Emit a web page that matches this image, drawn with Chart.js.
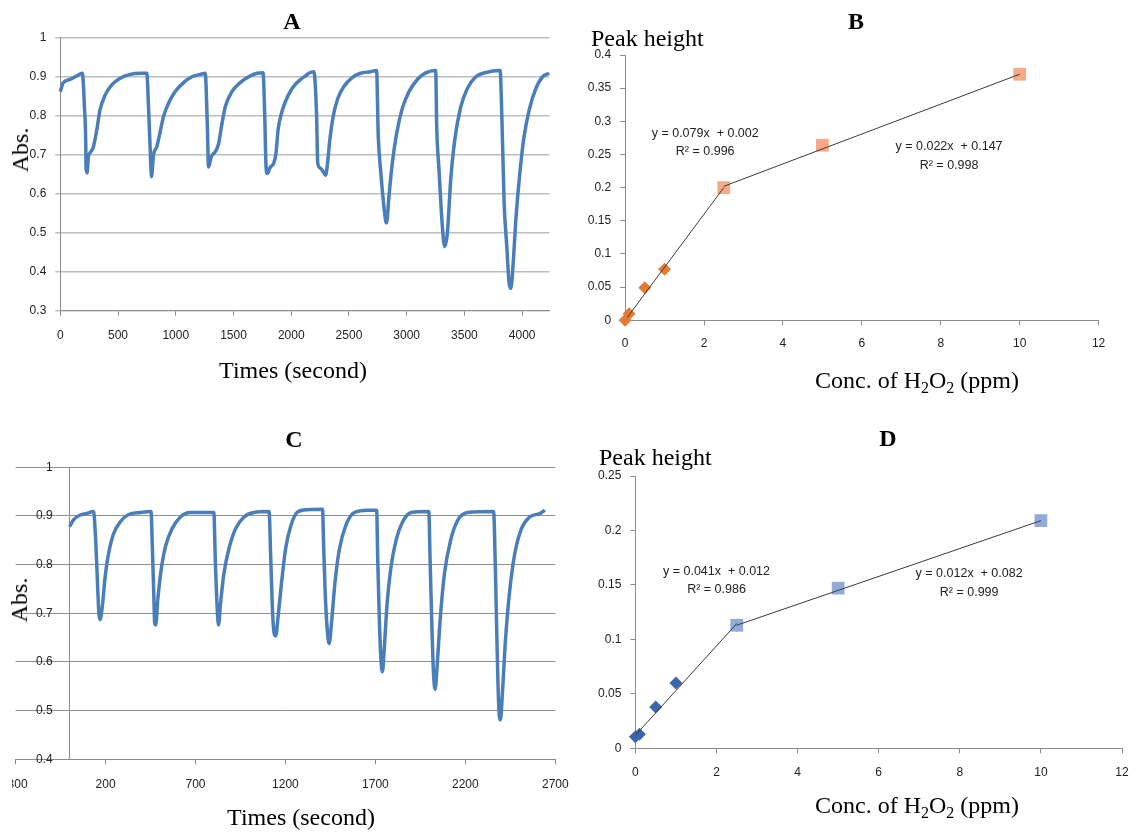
<!DOCTYPE html>
<html><head><meta charset="utf-8">
<script src="https://cdn.jsdelivr.net/npm/chart.js@4.4.1/dist/chart.umd.min.js"></script>
<style>
html,body{margin:0;padding:0;background:#fff;}
body{width:1137px;height:833px;overflow:hidden;position:relative;}
canvas{position:absolute;}
.t{position:absolute;font-family:"Liberation Serif","Times New Roman",serif;font-size:24px;color:#000;line-height:1;white-space:nowrap;transform:translate(-50%,-50%);}
.b{font-weight:bold;}
.l{transform:translate(0,-50%);}
.r{transform:translate(-50%,-50%) rotate(-90deg);}
sub{font-size:16px;vertical-align:-5px;line-height:0;}
#wc{position:absolute;left:12px;top:420px;width:568px;height:413px;overflow:hidden;}
</style></head><body>
<canvas id="cA" width="560" height="400" style="left:0;top:0"></canvas>
<canvas id="cB" width="577" height="400" style="left:560px;top:0"></canvas>
<div id="wc"><canvas id="cC" width="580" height="413" style="left:-12px;top:0"></canvas></div>
<canvas id="cD" width="577" height="413" style="left:560px;top:420px"></canvas>

<div class="t b" style="left:292px;top:21px">A</div>
<div class="t b" style="left:856px;top:21px">B</div>
<div class="t b" style="left:294px;top:439px">C</div>
<div class="t b" style="left:888px;top:438px">D</div>
<div class="t l" style="left:591px;top:38px">Peak height</div>
<div class="t l" style="left:599px;top:457px">Peak height</div>
<div class="t r" style="left:20px;top:150px">Abs.</div>
<div class="t r" style="left:19px;top:600px">Abs.</div>
<div class="t" style="left:293px;top:370px">Times (second)</div>
<div class="t" style="left:301px;top:817px">Times (second)</div>
<div class="t" style="left:917px;top:380px">Conc. of H<sub>2</sub>O<sub>2</sub> (ppm)</div>
<div class="t" style="left:917px;top:805px">Conc. of H<sub>2</sub>O<sub>2</sub> (ppm)</div>

<script>
// ---------- Panel A : absorbance vs time ----------
const timeA = [
  0, 26, 84, 142, 191,
  209, 220, 223, 232, 243, 258, 287, 316, 344, 388, 446, 518, 605, 691, 749,
  764, 781, 790, 807, 836, 865, 894, 937, 995, 1067, 1140, 1212, 1255,
  1273, 1284, 1307, 1342, 1371, 1400, 1429, 1487, 1559, 1631, 1704, 1756,
  1770, 1782, 1793, 1819, 1848, 1868, 1886, 1915, 1949, 2007, 2080, 2123, 2152, 2196,
  2219, 2230, 2253, 2282, 2297, 2311, 2334, 2363, 2404, 2456, 2528, 2600, 2687, 2739,
  2754, 2774, 2797, 2817, 2826, 2846, 2875, 2913, 2962, 3020, 3092, 3164, 3251,
  3260, 3280, 3309, 3329, 3352, 3381, 3416, 3468, 3526, 3598, 3685, 3809,
  3824, 3844, 3867, 3887, 3902, 3922, 3945, 3974, 4012, 4061, 4119, 4177, 4234
];
const absA = [
  0.861, 0.884, 0.892, 0.901, 0.908,
  0.822, 0.737, 0.665, 0.653, 0.694, 0.704, 0.72, 0.763, 0.814, 0.852, 0.878, 0.895, 0.905, 0.908, 0.908,
  0.822, 0.694, 0.643, 0.698, 0.72, 0.758, 0.797, 0.831, 0.861, 0.884, 0.899, 0.905, 0.908,
  0.779, 0.668, 0.694, 0.707, 0.728, 0.779, 0.822, 0.861, 0.884, 0.899, 0.908, 0.909,
  0.805, 0.668, 0.651, 0.668, 0.677, 0.703, 0.763, 0.805, 0.835, 0.869, 0.892, 0.901, 0.908, 0.912,
  0.805, 0.677, 0.665, 0.653, 0.647, 0.668, 0.737, 0.797, 0.844, 0.874, 0.897, 0.908, 0.912, 0.915,
  0.745, 0.66, 0.583, 0.532, 0.525, 0.592, 0.677, 0.754, 0.818, 0.861, 0.892, 0.909, 0.915,
  0.771, 0.66, 0.515, 0.464, 0.498, 0.634, 0.737, 0.822, 0.869, 0.899, 0.910, 0.915,
  0.797, 0.575, 0.464, 0.370, 0.357, 0.421, 0.532, 0.634, 0.737, 0.814, 0.869, 0.899, 0.908
];
const ticksA = [0, 500, 1000, 1500, 2000, 2500, 3000, 3500, 4000];

// ---------- Panel C : absorbance vs time ----------
const timeC = [
  0, 22, 59, 96, 133,
  146, 156, 163, 170, 182, 198, 217, 245, 282, 328, 394, 453,
  460, 468, 473, 479, 490, 509, 533, 570, 616, 672, 802,
  810, 821, 828, 839, 858, 886, 923, 970, 1025, 1109,
  1118, 1127, 1137, 1146, 1159, 1178, 1202, 1230, 1267, 1323, 1406,
  1412, 1421, 1434, 1443, 1456, 1475, 1499, 1536, 1583, 1657, 1707,
  1713, 1722, 1731, 1739, 1750, 1765, 1787, 1815, 1852, 1899, 1997,
  2004, 2014, 2023, 2032, 2043, 2060, 2084, 2118, 2159, 2214, 2357,
  2367, 2376, 2385, 2395, 2406, 2423, 2447, 2475, 2512, 2558, 2614, 2642
];
const absC = [
  0.878, 0.892, 0.902, 0.905, 0.909,
  0.844, 0.755, 0.70, 0.687, 0.714, 0.776, 0.823, 0.864, 0.888, 0.903, 0.907, 0.909,
  0.837, 0.741, 0.68, 0.676, 0.727, 0.789, 0.837, 0.874, 0.898, 0.907, 0.907,
  0.81, 0.707, 0.676, 0.72, 0.782, 0.833, 0.874, 0.898, 0.907, 0.909,
  0.816, 0.714, 0.659, 0.654, 0.693, 0.762, 0.835, 0.88, 0.908, 0.913, 0.914,
  0.844, 0.741, 0.659, 0.638, 0.68, 0.762, 0.83, 0.881, 0.907, 0.912, 0.912,
  0.81, 0.686, 0.604, 0.58, 0.632, 0.72, 0.796, 0.85, 0.888, 0.907, 0.909,
  0.81, 0.673, 0.577, 0.544, 0.591, 0.687, 0.782, 0.85, 0.892, 0.907, 0.909,
  0.789, 0.638, 0.515, 0.481, 0.536, 0.645, 0.748, 0.823, 0.874, 0.898, 0.905, 0.912
];
const ticksC = [-300, 200, 700, 1200, 1700, 2200, 2700];

// ---------- Panel B : calibration ----------
const concB1 = [0, 0.1, 0.5, 1, 2.5];
const peakB1 = [0.000, 0.010, 0.049, 0.077, 0.200];
const concB2 = [2.5, 5, 10];
const peakB2 = [0.200, 0.264, 0.371];
const fitB1x = [0.05, 2.5], fitB1y = [0.004, 0.2];
const fitB2x = [2.5, 10],   fitB2y = [0.202, 0.371];
const eqB = [
  {x: 2.03, y: 0.281, text: 'y = 0.079x  + 0.002'},
  {x: 2.03, y: 0.254, text: 'R\u00b2 = 0.996'},
  {x: 8.21, y: 0.2616, text: 'y = 0.022x  + 0.147'},
  {x: 8.21, y: 0.234, text: 'R\u00b2 = 0.998'}
];

// ---------- Panel D : calibration ----------
const concD1 = [0, 0.1, 0.5, 1, 2.5];
const peakD1 = [0.0107, 0.013, 0.038, 0.060, 0.113];
const concD2 = [2.5, 5, 10];
const peakD2 = [0.113, 0.147, 0.209];
const fitD1x = [0, 2.5],  fitD1y = [0.012, 0.1145];
const fitD2x = [2.5, 10], fitD2y = [0.113, 0.209];
const eqD = [
  {x: 2.0, y: 0.1621, text: 'y = 0.041x  + 0.012'},
  {x: 2.0, y: 0.1453, text: 'R\u00b2 = 0.986'},
  {x: 8.23, y: 0.1607, text: 'y = 0.012x  + 0.082'},
  {x: 8.23, y: 0.1432, text: 'R\u00b2 = 0.999'}
];

// ---------- helpers ----------
const pts = (xs, ys) => xs.map((x, i) => ({x: x, y: ys[i]}));
const FAM = '"Liberation Sans", Arial, sans-serif';
const FONT = {family: FAM, size: 12};
const xFont = lh => ({family: FAM, size: 12, lineHeight: lh + 'px'});
const TXT = '#222';
const AX = '#8c8c8c';
const fixW = w => s => { s.width = w; };
const fixH = h => s => { s.height = h; };
const fixedTicks = arr => s => { s.ticks = arr.map(v => ({value: v})); };
const plain = v => String(+Number(v).toFixed(2));

const eqPlugin = {
  id: 'eqLabels',
  afterDatasetsDraw(chart, args, opts) {
    const items = opts.items || [];
    const ctx = chart.ctx, xs = chart.scales.x, ys = chart.scales.y;
    ctx.save();
    ctx.font = '12.5px ' + FAM;
    ctx.fillStyle = '#222';
    ctx.textAlign = 'center';
    ctx.textBaseline = 'middle';
    items.forEach(it => ctx.fillText(it.text, xs.getPixelForValue(it.x), ys.getPixelForValue(it.y)));
    ctx.restore();
  }
};

// moves the y tick labels of an axis placed at a data position away from its line
const shiftYLabels = {
  id: 'shiftYLabels',
  beforeDraw(chart, args, opts) {
    const s = chart.scales.y;
    if (!s || s.__shifted) return;
    const orig = s.drawLabels;
    s.drawLabels = function (area) {
      const c = this.ctx; c.save(); c.translate(opts.dx || 0, 0); orig.call(this, area); c.restore();
    };
    s.__shifted = true;
  }
};

const base = {
  responsive: false, animation: false, events: [],
  plugins: {legend: {display: false}, tooltip: {enabled: false}}
};

function traceChart(id, xs, ys, pad, xOpts, yOpts, extraPlugins, pluginOpts) {
  return new Chart(document.getElementById(id), {
    type: 'scatter',
    plugins: extraPlugins || [],
    data: {datasets: [{
      data: pts(xs, ys), showLine: true, borderColor: '#4A7EBB', borderWidth: 3.5,
      pointRadius: 0, cubicInterpolationMode: 'monotone', clip: false
    }]},
    options: Object.assign({}, base, {
      layout: {padding: pad},
      plugins: Object.assign({legend: {display: false}, tooltip: {enabled: false}}, pluginOpts || {}),
      scales: {x: xOpts, y: yOpts}
    })
  });
}

// Panel A
traceChart('cA', timeA, absA, {left: 10.3, right: 10.7, top: 37.3, bottom: 59.3},
  {type: 'linear', min: 0, max: 4235, afterFit: fixH(30), afterBuildTicks: fixedTicks(ticksA),
   ticks: {font: xFont(35), color: TXT, padding: 2, maxRotation: 0, autoSkip: false, callback: plain},
   grid: {drawOnChartArea: false, tickLength: 5, color: AX}, border: {color: AX}},
  {type: 'linear', min: 0.3, max: 1, afterFit: fixW(50),
   ticks: {stepSize: 0.1, font: FONT, color: TXT, padding: 9, callback: plain},
   grid: {color: '#bdbdbd', lineWidth: 1.5, tickLength: 5}, border: {color: AX}}
);

// Panel C
traceChart('cC', timeC, absC, {left: 15.6, right: 24.7, top: 47.3, bottom: 43.7},
  {type: 'linear', min: -300, max: 2700, afterFit: fixH(30), afterBuildTicks: fixedTicks(ticksC),
   ticks: {font: xFont(37), color: TXT, padding: 2, maxRotation: 0, autoSkip: false, callback: plain},
   grid: {drawOnChartArea: false, tickLength: 5, color: AX}, border: {color: AX}},
  {type: 'linear', min: 0.4, max: 1, position: {x: 0},
   ticks: {stepSize: 0.1, font: FONT, color: TXT, padding: 12, callback: plain},
   grid: {color: '#8f8f8f', lineWidth: 1, tickLength: 5}, border: {color: AX}},
  [shiftYLabels], {shiftYLabels: {dx: -17}}
);

function calibChart(id, pad, ymax, c1, p1, c2, p2, f1x, f1y, f2x, f2y, col1, col2, eq, yW, lh) {
  return new Chart(document.getElementById(id), {
    type: 'scatter',
    plugins: [eqPlugin],
    data: {datasets: [
      {data: pts(f1x, f1y), showLine: true, pointRadius: 0, borderColor: '#3a3a3a', borderWidth: 1, order: 0},
      {data: pts(f2x, f2y), showLine: true, pointRadius: 0, borderColor: '#3a3a3a', borderWidth: 1, order: 0},
      {data: pts(c2, p2), pointStyle: 'rect', pointRadius: 9, pointBackgroundColor: col2,
       pointBorderColor: col2, pointBorderWidth: 0, clip: false, order: 1},
      {data: pts(c1, p1), pointStyle: 'rectRot', pointRadius: 6.5, pointBackgroundColor: col1,
       pointBorderColor: col1, pointBorderWidth: 0, clip: false, order: 2}
    ]},
    options: Object.assign({}, base, {
      layout: {padding: pad},
      plugins: {legend: {display: false}, tooltip: {enabled: false}, eqLabels: {items: eq}},
      scales: {
        x: {type: 'linear', min: 0, max: 12, afterFit: fixH(30),
            ticks: {stepSize: 2, font: xFont(lh), color: TXT, padding: 2, maxRotation: 0, autoSkip: false, callback: plain},
            grid: {drawOnChartArea: false, tickLength: 5, color: AX}, border: {color: AX}},
        y: {type: 'linear', min: 0, max: ymax, afterFit: fixW(yW),
            ticks: {stepSize: 0.05, font: FONT, color: TXT, padding: 9, autoSkip: false, callback: plain},
            grid: {drawOnChartArea: false, tickLength: 5, color: AX}, border: {color: AX}}
      }
    })
  });
}

calibChart('cB', {left: 10.1, right: 38.4, top: 55, bottom: 49.7}, 0.4,
  concB1, peakB1, concB2, peakB2, fitB1x, fitB1y, fitB2x, fitB2y, '#E37B35', '#F6A985', eqB, 55, 33);
calibChart('cD', {left: 15.4, right: 15, top: 56, bottom: 54.7}, 0.25,
  concD1, peakD1, concD2, peakD2, fitD1x, fitD1y, fitD2x, fitD2y, '#3B67A8', '#91AAD6', eqD, 60, 35);
</script>
</body></html>
